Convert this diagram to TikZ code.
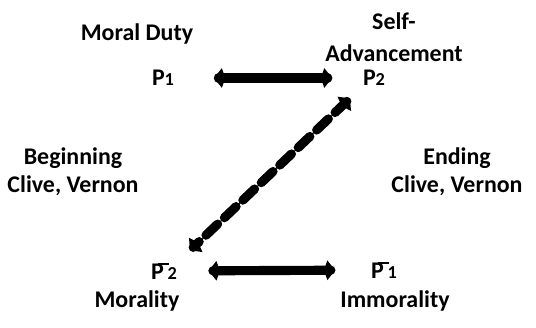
\documentclass[tikz,border=0pt]{standalone}
\usepackage{fontspec}
\setmainfont{Carlito}
\usetikzlibrary{arrows.meta}
\newcommand\negP{\rlap{\hspace{0.3em}\rule[0.6em]{0.45em}{0.07em}}P}
\newcommand\idx[1]{{\fontsize{13}{13}\selectfont #1}}
\begin{document}
\begin{tikzpicture}[x=0.025cm, y=-0.025cm, font=\fontsize{17}{20}\selectfont\bfseries, line join=round, line cap=round, >={Kite[length=8pt,width=14pt,inset=2.5pt]},
	pair/.style={<->, line width=6.5pt},
	link/.style={<->, line width=6.5pt, dash pattern=on 11.5pt off 6.6pt}]
	\useasboundingbox (0,0) rectangle (536,327);
	% the four corners
	\node (p1) at (163,78) {P\idx{1}};
	\node (p2) at (374,78) {P\idx{2}};
	\node (np2) at (164,271) {\negP\,\idx{2}};
	\node (np1) at (384,270) {\negP\,\idx{1}};
	% labels
	\node (duty) at (137,34) {Moral Duty};
	\node[align=center] (selfadv) at (394,37) {Self-\\[3pt]Advancement};
	\node[align=center] (begin) at (73,172) {Beginning\\Clive, Vernon};
	\node[align=center] (ending) at (457,172) {Ending\\Clive, Vernon};
	\node (morality) at (137,301) {Morality};
	\node (immorality) at (395,301) {Immorality};
	% relations
	\draw[pair, shorten <=25pt, shorten >=18.5pt] (p1) -- (p2);
	\draw[pair, shorten <=19pt, shorten >=22pt] (np2) -- (np1);
	\draw[link, shorten <=8pt, shorten >=8pt] (p2.south west) -- (np2.north east);
\end{tikzpicture}
\end{document}
